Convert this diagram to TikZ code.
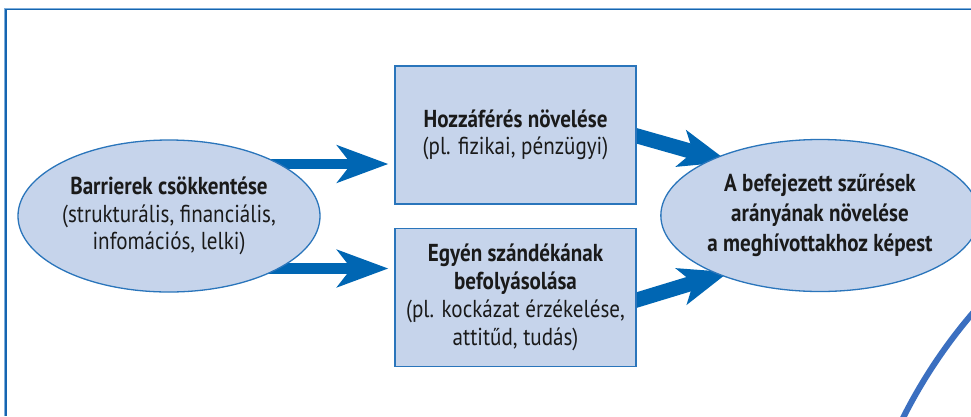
\documentclass[tikz,border=0pt]{standalone}
\usepackage{fontspec}
\setmainfont{PT Sans}[FakeStretch=0.86]
\usetikzlibrary{arrows.meta,shapes.geometric,backgrounds}

\definecolor{panelfill}{HTML}{C6D4EB}
\definecolor{panelline}{HTML}{2A75BB}
\definecolor{flowblue}{HTML}{0066B3}
\definecolor{framedark}{HTML}{1565B0}
\definecolor{framelight}{HTML}{7FAEDB}
\definecolor{arcblue}{HTML}{3B6FC0}
\definecolor{inktext}{HTML}{1A1A1A}

\tikzset{
  oval/.style={ellipse, draw=panelline, line width=1.3pt, fill=panelfill,
    minimum width=282pt, minimum height=152pt, inner sep=0pt,
    align=center, text=inktext},
  panel/.style={rectangle, draw=panelline, line width=1.3pt, fill=panelfill,
    minimum width=241pt, minimum height=138pt, inner sep=0pt,
    align=center, text=inktext},
  thinflow/.style={draw=flowblue, line width=10.5pt,
    -{Stealth[length=51pt, width=37pt, inset=14pt, fill=flowblue]}},
  thickflow/.style={draw=flowblue, line width=15pt,
    -{Stealth[length=49pt, width=37pt, inset=12pt, fill=flowblue]}},
}

\begin{document}
\begin{tikzpicture}[x=1pt, y=-1pt]
  \useasboundingbox (0,0) rectangle (971,416);

  % nodes
  \node[oval, font=\fontsize{24.5}{27.5}\selectfont] (barrier) at (169,216) {%
    \textbf{Barrierek csökkentése}\\
    (strukturális, financiális,\\
    infomációs, lelki)};

  \node[panel, font=\fontsize{24.5}{27.5}\selectfont] (access) at (515.5,135) {%
    \textbf{Hozzáférés növelése}\\
    (pl. fizikai, pénzügyi)};

  \node[panel, font=\fontsize{24.5}{28}\selectfont] (intent) at (515.5,297.5) {%
    \textbf{Egyén szándékának}\\
    \textbf{befolyásolása}\\
    (pl. kockázat érzékelése,\\
    attitűd, tudás)};

  \node[oval, font=\fontsize{24.5}{30}\selectfont\bfseries] (goal) at (820,215.5) {%
    A befejezett szűrések\\
    arányának növelése\\
    a meghívottakhoz képest};

  \begin{scope}[on background layer]
    \fill[white] (0,0) rectangle (971,416);

    % page frame: light outer rule with a darker inner rule
    \draw[framelight, line width=1.2pt] (4.8,416) -- (4.8,8.2) -- (971,8.2);
    \draw[framedark, line width=1.6pt] (6.2,416) -- (6.2,9.6) -- (971,9.6);

    % large arc in the lower right corner
    \begin{scope}
      \clip (0,0) rectangle (971,416);
      \draw[arcblue, line width=6pt] (1368,651) circle [radius=520];
    \end{scope}

    % arrows, kept behind the ovals and boxes
    \draw[thinflow] ([shift={(80,-52)}]barrier.center) -- ([shift={(-6,29)}]access.west);
    \draw[thinflow] ([shift={(80,52.5)}]barrier.center) -- ([shift={(-6,-29)}]intent.west);
    \draw[thickflow] ([shift={(-16,-3.7)}]access.east) -- ([shift={(-251,-53.5)}]goal.east);
    \draw[thickflow] ([shift={(-16,7.4)}]intent.east) -- ([shift={(-251,56.5)}]goal.east);
  \end{scope}
\end{tikzpicture}
\end{document}
